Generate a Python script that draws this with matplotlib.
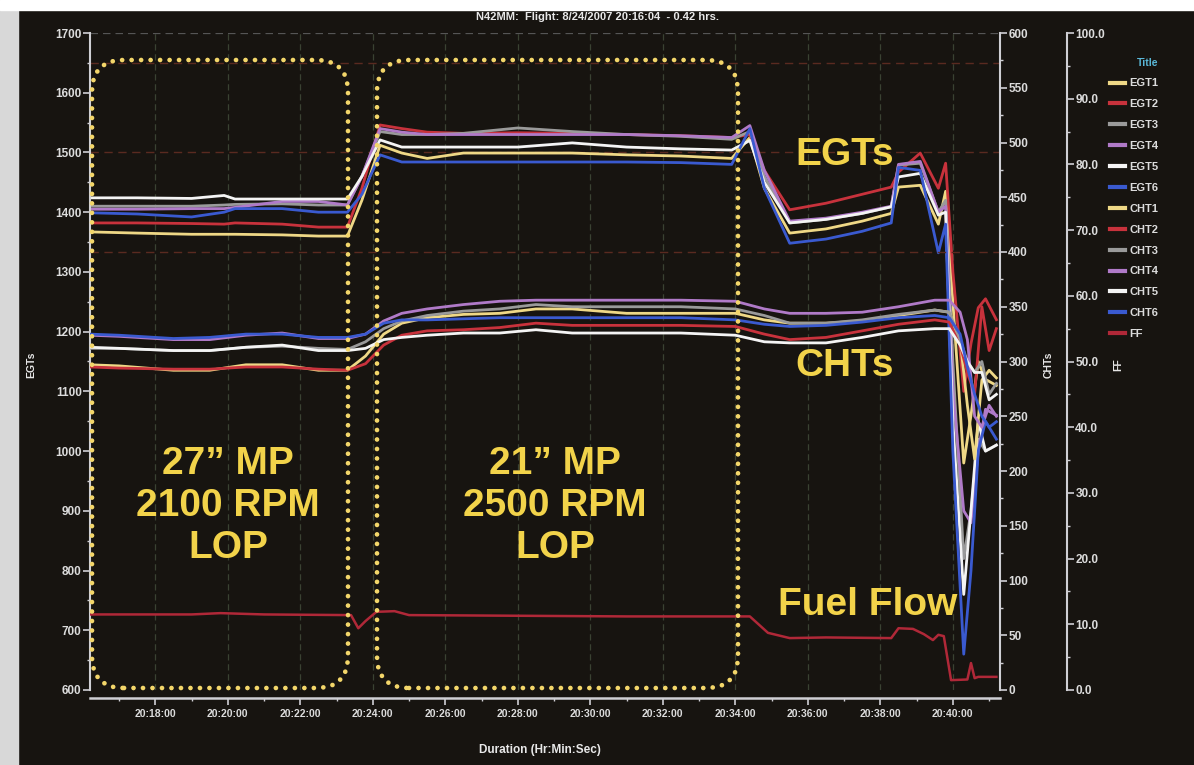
import numpy as np
import matplotlib
matplotlib.use("Agg")
import matplotlib.pyplot as plt
from matplotlib.patches import FancyBboxPatch, Rectangle
from matplotlib.lines import Line2D
from matplotlib.ticker import MultipleLocator, FuncFormatter, FormatStrFormatter

plt.rcParams['font.family'] = ['Liberation Sans', 'DejaVu Sans']
plt.rcParams['font.weight'] = 'bold'

# ---- data (time in minutes after 20:00) ----
t_egt = [16.2, 17.5, 19.0, 19.9, 20.2, 21.5, 22.5, 23.3, 23.7, 24.2, 24.8, 25.5,
         26.5, 28.0, 29.5, 31.0, 32.5, 33.9, 34.4, 34.8, 35.5, 36.5, 37.5, 38.3,
         38.5, 39.1, 39.6, 39.8, 40.0, 40.3, 40.5, 40.7, 40.9, 41.2]
egt1 = [1367, 1365, 1363, 1363, 1363, 1362, 1360, 1360, 1420, 1512, 1499, 1490,
        1499, 1499, 1499, 1496, 1494, 1490, 1525, 1440, 1365, 1372, 1385, 1398,
        1442, 1445, 1380, 1435, 1250, 980, 1060, 1150, 1120, 1110]
egt2 = [1382, 1382, 1381, 1380, 1382, 1380, 1375, 1375, 1440, 1546, 1540, 1534,
        1532, 1533, 1532, 1530, 1528, 1525, 1530, 1470, 1404, 1415, 1430, 1442,
        1467, 1499, 1440, 1482, 1300, 1100, 1180, 1240, 1255, 1220]
egt3 = [1410, 1410, 1410, 1412, 1413, 1414, 1412, 1412, 1460, 1535, 1530, 1530,
        1532, 1541, 1535, 1530, 1527, 1522, 1535, 1460, 1382, 1388, 1398, 1409,
        1479, 1482, 1400, 1420, 1150, 820, 900, 1020, 1000, 1010]
egt4 = [1405, 1405, 1406, 1406, 1408, 1418, 1418, 1412, 1460, 1540, 1534, 1530,
        1530, 1530, 1530, 1530, 1528, 1525, 1545, 1470, 1385, 1390, 1400, 1410,
        1480, 1485, 1400, 1410, 1100, 900, 880, 1000, 1070, 1060]
egt5 = [1424, 1424, 1423, 1428, 1422, 1422, 1422, 1422, 1460, 1521, 1509, 1509,
        1509, 1509, 1516, 1509, 1506, 1504, 1520, 1450, 1382, 1388, 1398, 1409,
        1459, 1465, 1395, 1400, 1050, 760, 900, 1050, 1000, 1010]
egt6 = [1399, 1397, 1392, 1400, 1406, 1406, 1400, 1400, 1430, 1496, 1484, 1484,
        1484, 1484, 1484, 1484, 1483, 1480, 1540, 1440, 1348, 1355, 1368, 1382,
        1475, 1470, 1332, 1380, 1000, 660, 800, 1000, 1050, 1020]

t_cht = [16.2, 17.0, 18.5, 19.5, 20.5, 21.5, 22.5, 23.3, 23.8, 24.3, 24.8, 25.5,
         26.5, 27.5, 28.5, 29.5, 31.0, 32.5, 34.0, 34.8, 35.5, 36.5, 37.5, 38.5,
         39.5, 39.9, 40.2, 40.4, 40.6, 40.8, 41.0, 41.2]
cht1 = [297, 296, 292, 292, 297, 297, 292, 292, 305, 325, 335, 340, 343, 344, 348, 348,
        344, 344, 344, 338, 335, 335, 337, 342, 347, 345, 320, 260, 211, 283, 292, 285]
cht2 = [295, 294, 293, 293, 295, 295, 293, 292, 298, 315, 324, 328, 329, 331, 335, 333,
        333, 333, 332, 325, 320, 322, 328, 334, 338, 336, 315, 290, 270, 350, 310, 330]
cht3 = [312, 312, 310, 310, 313, 314, 312, 311, 318, 330, 337, 342, 346, 348, 352, 350,
        350, 350, 348, 342, 335, 335, 338, 343, 347, 345, 320, 300, 290, 300, 270, 280]
cht4 = [324, 323, 320, 320, 324, 326, 321, 321, 325, 337, 344, 348, 352, 355, 356, 356,
        356, 356, 355, 348, 344, 344, 345, 350, 356, 356, 345, 320, 250, 240, 260, 250]
cht5 = [313, 312, 310, 310, 313, 315, 310, 310, 312, 320, 322, 324, 326, 326, 329, 326,
        326, 326, 324, 318, 317, 317, 322, 328, 330, 330, 315, 300, 290, 290, 265, 270]
cht6 = [325, 324, 321, 322, 325, 325, 322, 322, 325, 335, 338, 338, 339, 340, 340, 340,
        340, 340, 338, 334, 332, 333, 336, 340, 342, 340, 325, 295, 270, 250, 240, 245]

t_ff = [16.2, 19.0, 19.8, 21.0, 23.4, 23.6, 23.8, 24.1, 24.6, 25.0, 28.0, 31.0, 34.4,
        34.9, 35.5, 36.5, 38.3, 38.5, 38.9, 39.2, 39.45, 39.6, 39.75, 39.95, 40.4,
        40.5, 40.6, 40.7, 41.2]
ff = [11.5, 11.5, 11.7, 11.5, 11.4, 9.4, 10.5, 11.9, 12.0, 11.4, 11.3, 11.2, 11.2,
      8.7, 7.9, 8.0, 7.9, 9.4, 9.3, 8.5, 7.6, 8.4, 8.2, 1.5, 1.6, 4.1, 1.8, 2.0, 2.0]

egt_names = ['EGT1', 'EGT2', 'EGT3', 'EGT4', 'EGT5', 'EGT6']
cht_names = ['CHT1', 'CHT2', 'CHT3', 'CHT4', 'CHT5', 'CHT6']
cyl_colors = ['#efd886', '#c8323c', '#9a9a9a', '#b07ac8', '#f4f4f4', '#3a5ad0']
ff_color = '#b02838'

W, H = 1194, 765
BG = '#171410'
TXT = '#dcdcdc'
YEL = '#f2d34a'


def fx(x):
    return x / W


def fy(y):
    return 1 - y / H


fig = plt.figure(figsize=(W / 100, H / 100), dpi=100, facecolor=BG)
# photo borders
fig.add_artist(Rectangle((0, 0), fx(18), 1, transform=fig.transFigure,
                         color='#d8d8d8', zorder=0.5))
fig.add_artist(Rectangle((0, fy(10)), 1, 10 / H, transform=fig.transFigure,
                         color='#ffffff', zorder=0.5))

ax = fig.add_axes([fx(90), fy(690), fx(1000) - fx(90), (690 - 33) / H])
ax.set_facecolor(BG)
ax_cht = ax.twinx()
ax_ff = ax.twinx()

ax.set_xlim(16.2, 41.3)
ax.set_ylim(600, 1700)
ax_cht.set_ylim(0, 600)
ax_ff.set_ylim(0, 100)

# grid
for t in range(18, 41, 2):
    ax.axvline(t, color='#3a4232', lw=0.9, ls=(0, (5, 3)), zorder=0.5)
ax.axhline(1700, color='#555555', lw=0.9, ls=(0, (6, 4)), zorder=0.5)
ax.axhline(1650, color='#5a2a20', lw=1.0, ls=(0, (6, 4)), zorder=0.5)
ax.axhline(1500, color='#5a2a20', lw=1.0, ls=(0, (6, 4)), zorder=0.5)
ax_cht.axhline(400, color='#5a2a20', lw=1.0, ls=(0, (6, 4)), zorder=0.5)

# series
for vals, c in zip([egt1, egt2, egt3, egt4, egt5, egt6], cyl_colors):
    ax.plot(t_egt, vals, color=c, lw=2.0, zorder=2)
for vals, c in zip([cht1, cht2, cht3, cht4, cht5, cht6], cyl_colors):
    ax_cht.plot(t_cht, vals, color=c, lw=2.0, zorder=2)
ax_ff.plot(t_ff, ff, color=ff_color, lw=1.8, zorder=2)

# axes styling
SP = '#cfcfd4'
for a in (ax, ax_cht, ax_ff):
    for s in a.spines.values():
        s.set_visible(False)
ax.spines['left'].set_visible(True)
ax.spines['left'].set_color(SP)
ax.spines['left'].set_linewidth(1.5)
ax.spines['bottom'].set_visible(True)
ax.spines['bottom'].set_color(SP)
ax.spines['bottom'].set_linewidth(1.8)
ax.spines['bottom'].set_position(('outward', 6))

ax.yaxis.set_major_locator(MultipleLocator(100))
ax.yaxis.set_minor_locator(MultipleLocator(50))
ax.xaxis.set_major_locator(MultipleLocator(2))
ax.xaxis.set_major_formatter(FuncFormatter(lambda v, p: f"20:{int(round(v)):02d}:00"))
ax.xaxis.set_minor_locator(MultipleLocator(1))
ax.tick_params(axis='both', which='major', colors=SP, labelcolor=TXT,
               labelsize=8.5, length=5, width=1.2, direction='out', pad=1)
ax.tick_params(axis='x', which='major', labelsize=7.5, pad=3)
ax.tick_params(axis='both', which='minor', colors=SP, length=2.5, width=1.0)

for a, pos, maj, mnr, fmt in [(ax_cht, 1.0, 50, 25, '%d'),
                               (ax_ff, (1067 - 90) / 910, 10, 5, '%.1f')]:
    a.spines['right'].set_visible(True)
    a.spines['right'].set_position(('axes', pos))
    a.spines['right'].set_color(SP)
    a.spines['right'].set_linewidth(1.5)
    a.yaxis.set_major_locator(MultipleLocator(maj))
    a.yaxis.set_minor_locator(MultipleLocator(mnr))
    a.yaxis.set_major_formatter(FormatStrFormatter(fmt))
    a.tick_params(axis='y', which='major', colors=SP, labelcolor=TXT,
                  labelsize=8.5, length=5, width=1.2, pad=1)
    a.tick_params(axis='y', which='minor', colors=SP, length=2.5, width=1.0)

# titles and axis labels
fig.text(fx(597), fy(17), 'N42MM:  Flight: 8/24/2007 20:16:04  - 0.42 hrs.',
         color='#e8e8e8', fontsize=8, fontweight='bold', ha='center', va='center')
fig.text(fx(540), fy(750), 'Duration (Hr:Min:Sec)', color='#e8e8e8', fontsize=8.5,
         fontweight='bold', ha='center', va='center')
fig.text(fx(31), fy(365), 'EGTs', color='#e8e8e8', fontsize=7.5, fontweight='bold',
         rotation=90, ha='center', va='center')
fig.text(fx(1049), fy(365), 'CHTs', color='#e8e8e8', fontsize=7.5, fontweight='bold',
         rotation=90, ha='center', va='center')
fig.text(fx(1118), fy(365), 'FF', color='#e8e8e8', fontsize=7.5, fontweight='bold',
         rotation=90, ha='center', va='center')

# dotted rounded boxes around the two cruise segments
for x0, x1 in [(92, 348), (377, 738)]:
    box = FancyBboxPatch((x0 / 100, (H - 688) / 100), (x1 - x0) / 100, (688 - 60) / 100,
                         boxstyle='round,pad=0,rounding_size=0.32',
                         transform=fig.dpi_scale_trans, fill=False,
                         edgecolor='#f3d66a', lw=3.4, ls=(0, (0.01, 2.0)),
                         capstyle='round', zorder=5)
    fig.add_artist(box)

big = dict(color=YEL, fontsize=28, fontweight='bold', ha='center', va='center',
           linespacing=1.22, zorder=6)
fig.text(fx(228), fy(506), '27\u201d MP\n2100 RPM\nLOP', **big)
fig.text(fx(555), fy(506), '21\u201d MP\n2500 RPM\nLOP', **big)
fig.text(fx(845), fy(155), 'EGTs', **big)
fig.text(fx(845), fy(366), 'CHTs', **big)
fig.text(fx(868), fy(605), 'Fuel Flow', **big)

# legend
handles = [Line2D([], [], color=c, lw=3) for c in cyl_colors] * 2
handles.append(Line2D([], [], color=ff_color, lw=3))
labels = egt_names + cht_names + ['FF']
leg = fig.legend(handles, labels, loc='upper left', bbox_to_anchor=(fx(1104), fy(52)),
                 frameon=False, fontsize=8, labelcolor=TXT, handlelength=1.4,
                 handletextpad=0.4, labelspacing=0.98, borderpad=0, title='Title',
                 title_fontsize=7.5, alignment='right')
leg.get_title().set_color('#5ab8d8')
leg.get_title().set_fontweight('bold')

fig.savefig('out.png', dpi=100, facecolor=BG)
